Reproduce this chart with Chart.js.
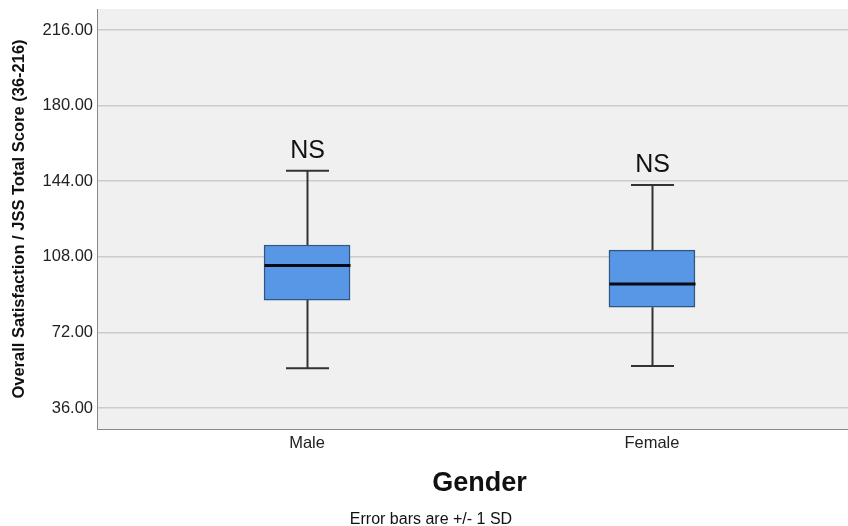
<!DOCTYPE html>
<html>
<head>
<meta charset="utf-8">
<script src="https://cdn.jsdelivr.net/npm/chart.js@4/dist/chart.umd.min.js"></script>
<style>
  html, body { margin: 0; padding: 0; background: #fff; overflow: hidden; }
  #wrap { width: 868px; height: 529px; }
</style>
</head>
<body>
<div id="wrap"><canvas id="c" width="868" height="529"></canvas></div>
<script>
const categories = ['Male', 'Female']
const whiskerLow = [54.9, 56.0]
const q1 = [87.4, 84.0]
const median = [103.8, 95.0]
const q3 = [113.6, 111.2]
const whiskerHigh = [149.0, 142.2]
const sigLabels = ['NS', 'NS']
const yTicks = [36, 72, 108, 144, 180, 216]

const FONT = "'Liberation Sans', Arial, sans-serif"

// plot background
const areaBg = {
  id: 'areaBg',
  beforeDraw(chart) {
    const { ctx, chartArea: a } = chart
    ctx.save()
    ctx.fillStyle = '#f0f0f0'
    ctx.fillRect(a.left, a.top, a.right - a.left, a.bottom - a.top)
    ctx.restore()
  },
}

// whiskers, caps, median and NS labels
const boxParts = {
  id: 'boxParts',
  afterDatasetsDraw(chart) {
    const { ctx } = chart
    const x = chart.scales.x
    const y = chart.scales.y
    const boxW = 86
    const capW = 43
    ctx.save()
    categories.forEach((c, i) => {
      const cx = Math.round(x.getPixelForValue(i + 1)) + 0.5
      const yLo = y.getPixelForValue(whiskerLow[i])
      const yQ1 = y.getPixelForValue(q1[i])
      const yQ3 = y.getPixelForValue(q3[i])
      const yHi = y.getPixelForValue(whiskerHigh[i])
      ctx.strokeStyle = '#333333'
      ctx.lineWidth = 2
      ctx.beginPath()
      ctx.moveTo(cx, yLo); ctx.lineTo(cx, yQ1)
      ctx.moveTo(cx, yQ3); ctx.lineTo(cx, yHi)
      ctx.moveTo(cx - capW / 2, yLo); ctx.lineTo(cx + capW / 2, yLo)
      ctx.moveTo(cx - capW / 2, yHi); ctx.lineTo(cx + capW / 2, yHi)
      ctx.stroke()

      const yMed = y.getPixelForValue(median[i])
      ctx.strokeStyle = '#0a0a14'
      ctx.lineWidth = 3
      ctx.beginPath()
      ctx.moveTo(cx - boxW / 2, yMed); ctx.lineTo(cx + boxW / 2, yMed)
      ctx.stroke()

      ctx.fillStyle = '#111111'
      ctx.font = '25px ' + FONT
      ctx.textAlign = 'center'
      ctx.textBaseline = 'middle'
      ctx.fillText(sigLabels[i], cx, yHi - 20)
    })
    ctx.restore()
  },
}

const config = {
  type: 'bar',
  data: {
    datasets: [
      {
        data: categories.map((c, i) => ({ x: i + 1, y: [q1[i], q3[i]] })),
        backgroundColor: '#5797e6',
        borderColor: '#2f5685',
        borderWidth: 1.5,
        borderSkipped: false,
        barThickness: 86,
      },
    ],
  },
  options: {
    responsive: false,
    animation: false,
    layout: { padding: { top: 9, right: 6, left: 0, bottom: 0 } },
    plugins: {
      legend: { display: false },
      tooltip: { enabled: false },
      title: {
        display: true,
        position: 'bottom',
        text: 'Error bars are +/- 1 SD',
        color: '#111111',
        font: { family: FONT, size: 16, weight: 'normal' },
        padding: { top: 4, bottom: 0 },
      },
    },
    scales: {
      x: {
        type: 'linear',
        offset: false,
        min: 0.391,
        max: 2.609,
        afterBuildTicks: (axis) => { axis.ticks = [1, 2].map((v) => ({ value: v })) },
        afterFit: (axis) => { axis.height = 76.8 },
        grid: { display: false, drawTicks: false },
        border: { color: '#8a8a8a', width: 1 },
        ticks: {
          callback: (v) => categories[v - 1],
          color: '#222222',
          font: { family: FONT, size: 16.5 },
          padding: 5,
          maxRotation: 0,
        },
        title: {
          display: true,
          text: 'Gender',
          color: '#111111',
          font: { family: FONT, size: 27, weight: 'bold' },
          padding: { top: 13, bottom: 6 },
        },
      },
      y: {
        min: 26,
        max: 226,
        afterBuildTicks: (axis) => { axis.ticks = yTicks.map((v) => ({ value: v })) },
        afterFit: (axis) => { axis.width = 97 },
        grid: { color: '#cccccc', lineWidth: 1.5, drawTicks: true, tickLength: 4, tickColor: 'rgba(0,0,0,0)' },
        border: { color: '#8a8a8a', width: 1 },
        ticks: {
          callback: (v) => v.toFixed(2),
          color: '#222222',
          font: { family: FONT, size: 16.5, lineHeight: 1 },
          padding: 0,
        },
        title: {
          display: true,
          text: 'Overall Satisfaction / JSS Total Score (36-216)',
          color: '#111111',
          font: { family: FONT, size: 16.5, weight: 'bold' },
          padding: { top: 10, bottom: 0 },
        },
      },
    },
  },
  plugins: [areaBg, boxParts],
}

new Chart(document.getElementById('c'), config)
</script>
</body>
</html>
